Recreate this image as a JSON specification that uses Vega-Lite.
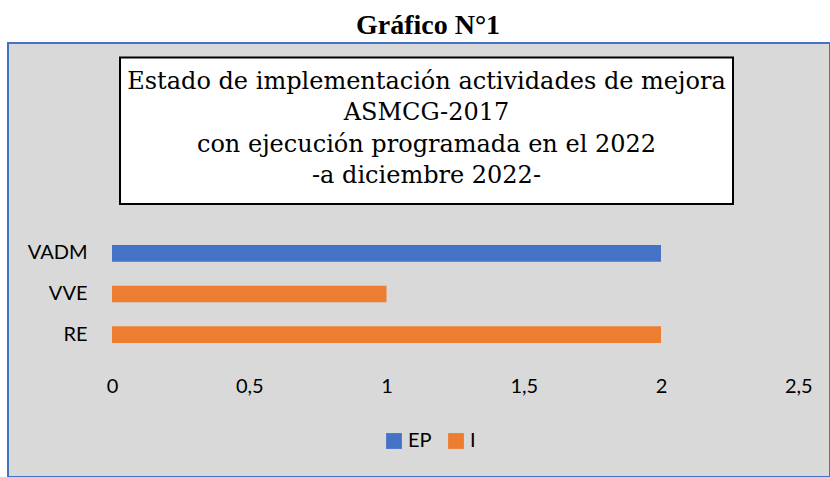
{
  "$schema": "https://vega.github.io/schema/vega-lite/v6.json",
  "width": 822,
  "height": 434,
  "autosize": {"type": "none"},
  "padding": {"left": 8, "top": 43, "right": 0, "bottom": 0},
  "background": "white",
  "title": {
    "text": "Gráfico N°1",
    "font": "Liberation Serif",
    "fontSize": 28,
    "fontWeight": "bold",
    "color": "#000000",
    "anchor": "middle",
    "frame": "group",
    "baseline": "alphabetic",
    "offset": 6,
    "dx": 9,
    "dy": 25
  },
  "config": {
    "view": {"fill": "#D9D9D9", "stroke": "#4472C4", "strokeWidth": 2}
  },
  "data": {
    "values": [
      {"cat": "VADM", "serie": "EP", "value": 2},
      {"cat": "VVE", "serie": "I", "value": 1},
      {"cat": "RE", "serie": "I", "value": 2}
    ]
  },
  "layer": [
    {
      "mark": {"type": "bar"},
      "encoding": {
        "y": {
          "field": "cat",
          "type": "nominal",
          "scale": {
            "domain": ["VADM", "VVE", "RE"],
            "range": [190, 312],
            "paddingInner": 0.59,
            "paddingOuter": 0.295
          },
          "axis": {
            "title": null,
            "orient": "left",
            "offset": -79,
            "domain": false,
            "ticks": false,
            "tickSize": 0,
            "labelPadding": 0,
            "labelFont": "Lato",
            "labelFontSize": 20,
            "labelColor": "#000000",
            "grid": false
          }
        },
        "x": {
          "field": "value",
          "type": "quantitative",
          "scale": {"domain": [-0.37887, 2.61566], "nice": false, "zero": false},
          "axis": {
            "title": null,
            "orient": "bottom",
            "values": [0, 0.5, 1, 1.5, 2, 2.5],
            "labelExpr": "replace(format(datum.value, '~g'), '.', ',')",
            "offset": -91,
            "domain": false,
            "ticks": false,
            "tickSize": 0,
            "labelPadding": 0,
            "labelBaseline": "middle",
            "labelFont": "Lato",
            "labelFontSize": 20,
            "labelColor": "#000000",
            "grid": false
          }
        },
        "color": {
          "field": "serie",
          "type": "nominal",
          "scale": {"domain": ["EP", "I"], "range": ["#4472C4", "#ED7D31"]},
          "legend": {
            "title": null,
            "orient": "none",
            "direction": "horizontal",
            "legendX": 376,
            "legendY": 388,
            "symbolType": "square",
            "symbolSize": 250,
            "symbolStrokeWidth": 0,
            "labelFont": "Lato",
            "labelFontSize": 20,
            "labelColor": "#000000",
            "labelOffset": 4,
            "columnPadding": 14
          }
        }
      }
    },
    {
      "data": {"values": [{}]},
      "mark": {"type": "rect", "fill": "#FFFFFF", "stroke": "#000000", "strokeWidth": 2},
      "encoding": {
        "x": {"datum": 0.02914},
        "x2": {"datum": 2.2623},
        "y": {"value": 14.5},
        "y2": {"value": 161}
      }
    },
    {
      "data": {"values": [{}]},
      "mark": {
        "type": "text",
        "font": "DejaVu Serif",
        "fontSize": 24,
        "color": "#000000",
        "align": "center",
        "baseline": "alphabetic",
        "lineHeight": 31.3
      },
      "encoding": {
        "x": {"datum": 1.1457},
        "y": {"value": 46},
        "text": {"value": ["Estado de implementación actividades de mejora", "ASMCG-2017", "con ejecución programada en el 2022", "-a diciembre 2022-"]}
      }
    }
  ]
}
